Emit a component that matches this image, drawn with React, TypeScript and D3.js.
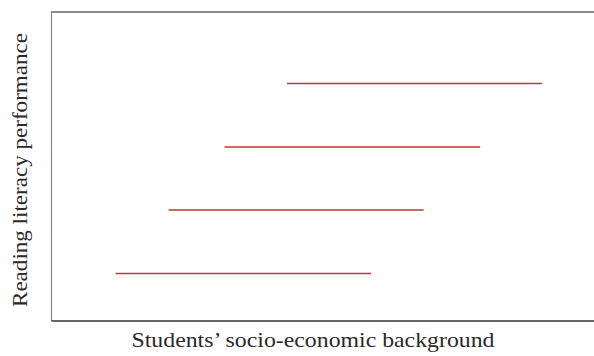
import React from "react";
import * as d3 from "d3";

const segmentStart = [11.8, 21.6, 31.9, 43.4];
const segmentEnd = [58.9, 68.6, 79.0, 90.4];
const segmentLevel = [15.4, 35.9, 56.3, 76.9];
const xLabel = "Students’ socio-economic background";
const yLabel = "Reading literacy performance";

const W = 594;
const H = 356;
const left = 51.5;
const right = 594;
const top = 12;
const bottom = 321;

export default function App() {
  const x = d3.scaleLinear().domain([0, 100]).range([left, right]);
  const y = d3.scaleLinear().domain([0, 100]).range([bottom, top]);
  const font = "'Liberation Serif', 'Times New Roman', serif";
  return (
    <svg width={W} height={H} style={{ position: "absolute", left: 0, top: 0 }}>
      <rect width={W} height={H} fill="#fff" />
      <line x1={left} x2={right} y1={top} y2={top} stroke="#8a8a8a" strokeWidth={2} />
      <line x1={left} x2={left} y1={top - 1} y2={bottom} stroke="#8a8a8a" strokeWidth={1.2} />
      <line x1={left} x2={right} y1={bottom} y2={bottom} stroke="#333" strokeWidth={1.5} />
      {segmentStart.map((s, i) => (
        <line
          key={i}
          x1={x(s)}
          x2={x(segmentEnd[i])}
          y1={y(segmentLevel[i])}
          y2={y(segmentLevel[i])}
          stroke="#c0392b"
          strokeWidth={1.5}
        />
      ))}
      <text
        x={313}
        y={347}
        textAnchor="middle"
        fontFamily={font}
        fontSize={21}
        fill="#2a2a2a"
        textLength={363}
        lengthAdjust="spacingAndGlyphs"
      >
        {xLabel}
      </text>
      <text
        transform={`translate(27,170) rotate(-90)`}
        textAnchor="middle"
        fontFamily={font}
        fontSize={21}
        fill="#2a2a2a"
        textLength={274}
        lengthAdjust="spacingAndGlyphs"
      >
        {yLabel}
      </text>
    </svg>
  );
}
